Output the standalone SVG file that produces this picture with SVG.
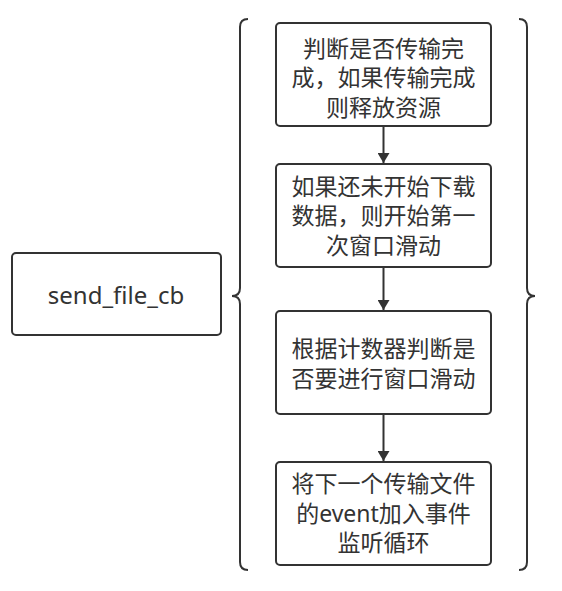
<svg xmlns="http://www.w3.org/2000/svg" width="562" height="591" viewBox="0 0 562 591">
<style>
.box{fill:#fff;stroke:#333;stroke-width:2}
.t{font-family:"Noto Sans","Noto Sans CJK SC",sans-serif;font-size:23px;fill:#333;text-anchor:middle}
.c{fill:none;stroke:#333;stroke-width:2}
</style>
<defs>
<marker id="ah" markerWidth="10" markerHeight="12" refX="10" refY="6" orient="auto" markerUnits="userSpaceOnUse">
<path d="M0,0 L10,6 L0,12 Z" fill="#333"/>
</marker>
</defs>
<rect width="562" height="591" fill="#fff"/>
<g id="connectors">
<path class="c" d="M248,19 Q240,19 240,27 L240,288 Q240,296 232,296 Q240,296 240,304 L240,562 Q240,570 248,570"/>
<path class="c" d="M519,19 Q527,19 527,27 L527,288 Q527,296 535,296 Q527,296 527,304 L527,562 Q527,570 519,570"/>
<line class="c" x1="383.5" y1="126" x2="383.5" y2="163" marker-end="url(#ah)"/>
<line class="c" x1="383.5" y1="267" x2="383.5" y2="310" marker-end="url(#ah)"/>
<line class="c" x1="383.5" y1="414" x2="383.5" y2="461" marker-end="url(#ah)"/>
</g>
<g id="n0">
<rect class="box" x="12" y="253" width="209" height="82" rx="4"/>
<text class="t" x="116" y="304" style="font-size:24px">send_file_cb</text>
</g>
<g id="n1">
<rect class="box" x="276" y="23" width="215" height="103" rx="4"/>
<text class="t" x="383.5" y="56.5">判断是否传输完</text>
<text class="t" x="383.5" y="86">成，如果传输完成</text>
<text class="t" x="383.5" y="115.5">则释放资源</text>
</g>
<g id="n2">
<rect class="box" x="276" y="164" width="215" height="103" rx="4"/>
<text class="t" x="383.5" y="194.5">如果还未开始下载</text>
<text class="t" x="383.5" y="224">数据，则开始第一</text>
<text class="t" x="383.5" y="253.5">次窗口滑动</text>
</g>
<g id="n3">
<rect class="box" x="276" y="311" width="215" height="103" rx="4"/>
<text class="t" x="383.5" y="356.5">根据计数器判断是</text>
<text class="t" x="383.5" y="386.5">否要进行窗口滑动</text>
</g>
<g id="n4">
<rect class="box" x="276" y="462" width="215" height="103" rx="4"/>
<text class="t" x="383.5" y="492">将下一个传输文件</text>
<text class="t" x="383.5" y="521.5">的event加入事件</text>
<text class="t" x="383.5" y="551">监听循环</text>
</g>
</svg>
